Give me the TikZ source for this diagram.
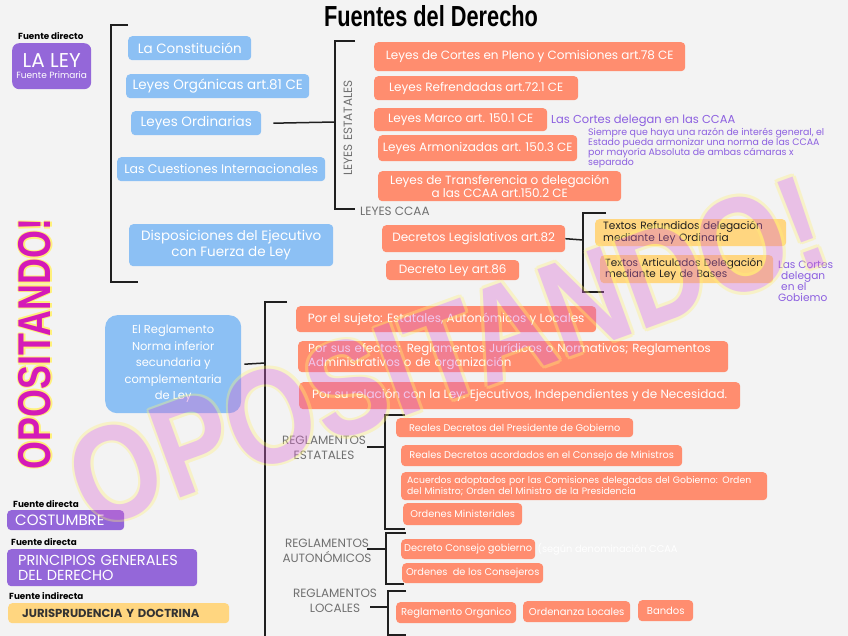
\documentclass[tikz,border=0pt]{standalone}
\usepackage{graphicx}
\usepackage{fontspec}
\setmainfont{Poppins}
\newfontfamily\titlefont{Liberation Sans}
\newfontfamily\wmfont{Liberation Sans}
\definecolor{bg}{HTML}{F3F3F3}
\definecolor{cblue}{HTML}{8CC0F4}
\definecolor{corange}{HTML}{FF8D6F}
\definecolor{cpurple}{HTML}{9467D9}
\definecolor{cyellow}{HTML}{FFD680}
\definecolor{ptext}{HTML}{8C5FE0}
\definecolor{gtext}{HTML}{707070}
\definecolor{wmpink}{HTML}{D966CF}
\definecolor{wmmag}{HTML}{D41AB8}
\definecolor{wmyel}{HTML}{FFF07A}
\newcommand{\fs}[2]{\fontsize{#1}{#2}\selectfont}
\begin{document}
\begin{tikzpicture}[x=1pt,y=-1pt,
  box/.style={rounded corners=4pt, inner sep=0pt, anchor=north west, text=white, align=center},
  bbox/.style={box, fill=cblue},
  obox/.style={box, fill=corange},
  pbox/.style={box, fill=cpurple},
  ybox/.style={box, fill=cyellow, text=black!88},
  lft/.style={align=left, inner xsep=#1, execute at begin node={\hyphenpenalty=10000\exhyphenpenalty=10000}},
  brk/.style={line width=1.8pt, draw=black!88},
  conn/.style={line width=1.5pt, draw=black!88},
  note/.style={text=ptext, inner sep=0pt, align=left},
  glabel/.style={text=gtext, inner sep=0pt, align=center, font=\fs{12}{15}},
  small/.style={font=\fs{8.8}{9}\bfseries, inner sep=0pt, anchor=west, text=black},
  wm/.style={font=\wmfont\bfseries\fs{135}{135}, inner sep=0pt, rotate=20},
  wmv/.style={font=\wmfont\bfseries\fs{46}{46}, inner sep=0pt, rotate=90}
]
\useasboundingbox[fill=bg] (0,0) rectangle (848,636);

% title
\node[font=\titlefont\bfseries\fs{29}{29}, inner sep=0pt] (title) at (431,16) {\scalebox{0.75}[1]{Fuentes del Derecho}};

% LA LEY
\node[small] (fd1) at (18,36) {Fuente directo};
\node[pbox, rounded corners=7pt, minimum width=79pt, minimum height=46pt] (laley) at (12,43)
  {{\fs{20}{20}LA LEY}\\[-1pt]{\fs{9}{10}Fuente Primaria}};

% first bracket
\draw[brk] (128,25) -- (111,25) -- (111,282) -- (138,282);

\node[bbox, font=\fs{13.5}{15}, minimum width=123pt, minimum height=24pt] (constit) at (128,36) {La Constitución};
\node[bbox, font=\fs{13.5}{15}, minimum width=183pt, minimum height=24pt] (organ) at (126,74) {Leyes Orgánicas art.81 CE};
\node[bbox, font=\fs{13.5}{15}, minimum width=130pt, minimum height=24pt] (ordin) at (131,111) {Leyes Ordinarias};
\node[bbox, font=\fs{12.5}{14}, minimum width=208pt, minimum height=24pt] (cuest) at (117,157) {Las Cuestiones Internacionales};
\node[bbox, font=\fs{13.5}{16}, minimum width=204pt, minimum height=42pt] (dispo) at (129,224) {Disposiciones del Ejecutivo\\con Fuerza de Ley};

% second bracket (leyes estatales)
\coordinate (b2mid) at (335,122);
\draw[conn] ([xshift=12pt]ordin.east) -- (b2mid);
\draw[brk] (355,41) -- (335,41) -- (335,209) -- (355,209);
\node[glabel, rotate=90] (lestat) at (348,128) {LEYES ESTATALES};
\node[glabel, anchor=west] (lccaa) at (360,211) {LEYES CCAA};

\node[obox, font=\fs{12}{14}, minimum width=311pt, minimum height=29pt] (cortes) at (374,42) {Leyes de Cortes en Pleno y Comisiones art.78 CE};
\node[obox, font=\fs{12}{14}, minimum width=204pt, minimum height=24pt] (refr) at (374,76) {Leyes Refrendadas art.72.1 CE};
\node[obox, font=\fs{12}{14}, minimum width=173pt, minimum height=23pt] (marco) at (374,108) {Leyes Marco art. 150.1 CE};
\node[obox, font=\fs{12}{14}, minimum width=199pt, minimum height=26pt] (armon) at (378,135) {Leyes Armonizadas art. 150.3 CE};
\node[obox, font=\fs{12}{13}, minimum width=243pt, minimum height=30pt] (transf) at (378,171) {Leyes de Transferencia o delegación\\a las CCAA art.150.2 CE};

\node[note, font=\fs{11.5}{12}, anchor=west] (n1) at (551,121) {Las Cortes delegan en las CCAA};
\node[note, font=\fs{9.4}{10}, anchor=north west] (n2) at (588,128) {Siempre que haya una razón de interés general, el\\Estado pueda armonizar una norma de las CCAA\\por mayoría Absoluta de ambas cámaras x\\separado};

% decretos
\node[obox, font=\fs{12}{14}, minimum width=183pt, minimum height=27pt] (dleg) at (382,225) {Decretos Legislativos art.82};
\node[obox, font=\fs{12}{14}, minimum width=133pt, minimum height=20pt] (dley) at (386,260) {Decreto Ley art.86};
\coordinate (b3mid) at (583,240);
\draw[conn] (dleg.east) -- (b3mid);
\draw[brk] (606,213) -- (583,213) -- (583,292) -- (604,292);
\node[ybox, lft=8pt, font=\fs{10.6}{11.5}, text width=175pt, minimum height=27pt] (yref) at (595,219) {Textos Refundidos delegación\\mediante Ley Ordinaria};
\node[ybox, lft=5pt, font=\fs{10.4}{11.5}, text width=163pt, minimum height=28pt] (yart) at (600,255) {Textos Articulados Delegación\\mediante Ley de Bases};
\node[note, font=\fs{10.6}{11}, anchor=north west] (n3) at (778,261) {Las Cortes\\\hspace{3pt}delegan\\\hspace{3pt}en el\\Gobiemo};

% reglamento
\node[bbox, rounded corners=12pt, font=\fs{11.5}{16.5}, minimum width=136pt, minimum height=98pt] (regl) at (105,315) {El Reglamento\\Norma inferior\\secundaria y\\complementaria\\de Ley};
\coordinate (b4mid) at (265,363);
\draw[conn] ([xshift=3pt]regl.east) -- (b4mid);
\draw[brk] (287,302) -- (265,302) -- (265,640);

\node[obox, font=\fs{12}{13}, minimum width=300pt, minimum height=26pt] (suj) at (296,306) {Por el sujeto: Estatales, Autonómicos y Locales};
\node[obox, lft=10pt, font=\fs{11.8}{12}, text width=410pt, minimum height=31pt] (efec) at (298,341) {Por sus efectos: Reglamentos Jurídicos o Normativos; Reglamentos\\Administrativos o de organización};
\node[obox, font=\fs{12}{13}, minimum width=441pt, minimum height=27pt] (rel) at (299,382) {Por su relación con la Ley: Ejecutivos, Independientes y de Necesidad.};

% reglamentos estatales
\node[glabel] (lrest) at (324,448) {REGLAMENTOS\\ESTATALES};
\coordinate (b5mid) at (385,447);
\draw[conn] (367,447) -- (b5mid);
\draw[brk] (405,415) -- (385,415) -- (385,529) -- (405,529);
\node[obox, font=\fs{9.7}{11}, minimum width=237pt, minimum height=19pt] (rd1) at (396,418) {Reales Decretos del Presidente de Gobierno};
\node[obox, font=\fs{9.8}{11}, minimum width=281pt, minimum height=21pt] (rd2) at (401,445) {Reales Decretos acordados en el Consejo de Ministros};
\node[obox, lft=6pt, font=\fs{9.3}{11}, text width=354pt, minimum height=28pt] (acu) at (401,472) {Acuerdos adoptados por las Comisiones delegadas del Gobierno: Orden\\del Ministro; Orden del Ministro de la Presidencia};
\node[obox, font=\fs{9.8}{11}, minimum width=119pt, minimum height=22pt] (ordm) at (403,503) {Ordenes Ministeriales};

% reglamentos autonomicos
\node[glabel] (lraut) at (327,551) {REGLAMENTOS\\AUTONÓMICOS};
\coordinate (b6mid) at (386,549);
\draw[conn] (367,549) -- (b6mid);
\draw[brk] (406,533) -- (386,533) -- (386,584) -- (404,584);
\node[obox, font=\fs{9.8}{11}, minimum width=134pt, minimum height=20pt] (dcg) at (401,539) {Decreto Consejo gobierno};
\node[text=white, font=\fs{9.8}{11}, inner sep=0pt, anchor=west] (dcgx) at ([xshift=2pt]dcg.east) {(según denominación CCAA};
\node[obox, font=\fs{9.8}{11}, minimum width=141pt, minimum height=20pt] (ordc) at (402,563) {Ordenes\ \ de los Consejeros};

% reglamentos locales
\node[glabel] (lrloc) at (335,601) {REGLAMENTOS\\LOCALES};
\coordinate (b7mid) at (388,607);
\draw[conn] (370,607) -- (b7mid);
\draw[brk] (406,591) -- (388,591) -- (388,635) -- (406,635);
\node[obox, font=\fs{10}{11}, minimum width=120pt, minimum height=21pt] (rorg) at (396,602) {Reglamento Organico};
\node[obox, font=\fs{10}{11}, minimum width=107pt, minimum height=21pt] (ordl) at (523,601) {Ordenanza Locales};
\node[obox, font=\fs{10}{11}, minimum width=55pt, minimum height=21pt] (bandos) at (638,600) {Bandos};

% bottom left
\node[small] (fd2) at (13,504) {Fuente directa};
\node[pbox, lft=8pt, font=\fs{15}{15}, text width=101pt, minimum height=20pt] (cost) at (7,510) {COSTUMBRE};
\node[small] (fd3) at (11,542) {Fuente directa};
\node[pbox, lft=11pt, font=\fs{14.5}{15.5}, text width=168pt, minimum height=37pt] (princ) at (7,549) {PRINCIPIOS GENERALES\\DEL DERECHO};
\node[small] (fi1) at (9,596) {Fuente indirecta};
\node[ybox, lft=14pt, font=\fs{11.6}{12}\bfseries, text width=193pt, minimum height=20pt, text=black!80] (juris) at (8,603) {JURISPRUDENCIA Y DOCTRINA};

% vertical watermark
\foreach \dx/\dy [count=\i] in {-1.5/0,1.5/0,0/-1.5,0/1.5}
  \node[wmv, text=wmyel, shift={(\dx,\dy)}] (wmvh\i) at (35,344) {\scalebox{0.78}[1]{OPOSITANDO!}};
\node[wmv, text=wmmag] (wmv) at (35,344) {\scalebox{0.78}[1]{OPOSITANDO!}};

% diagonal watermark
\begin{scope}[transparency group, opacity=0.36]
\foreach \dx/\dy [count=\i] in {-3/0,3/0,0/-3,0/3,-2.2/-2.2,2.2/2.2,-2.2/2.2,2.2/-2.2}
  \node[wm, text=wmyel, shift={(\dx,\dy)}] (wmh\i) at (447,352) {\scalebox{0.84}[1]{OPOSITANDO!}};
\node[wm, text=wmpink] (wmark) at (447,352) {\scalebox{0.84}[1]{OPOSITANDO!}};
\end{scope}
\end{tikzpicture}
\end{document}
